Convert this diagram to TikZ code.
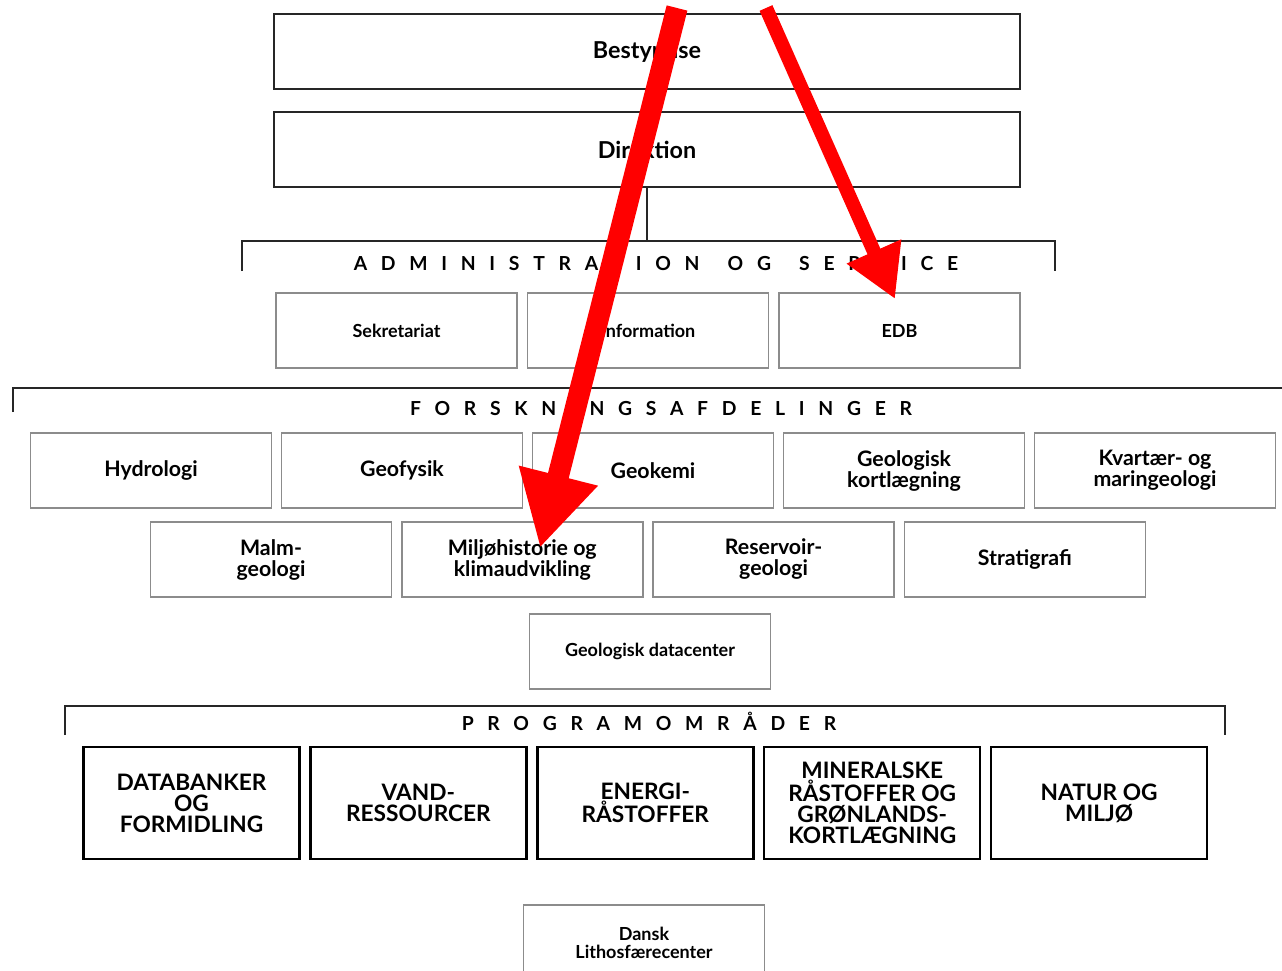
\documentclass[tikz,border=0pt]{standalone}
\usepackage{fontspec}
\setmainfont{Lato}[BoldFont={Lato Bold}]
\usetikzlibrary{arrows.meta}
\tikzset{arrow/.style={draw,red,line cap=butt,#1}}
\tikzset{topbox/.style={draw=black!85,line width=1.5pt,minimum width=559.5pt,minimum height=56.25pt,inner sep=0pt,font={\bfseries\fontsize{17.5pt}{17.5pt}\selectfont}}}
\tikzset{unitbox/.style={draw=black!45,line width=1.2pt,minimum width=180.75pt,minimum height=56.25pt,align=center,inner sep=0pt,font={\bfseries\fontsize{16pt}{15.75pt}\selectfont}}}
\tikzset{smallbox/.style={unitbox,font={\bfseries\fontsize{13.5pt}{13.5pt}\selectfont}}}
\tikzset{progbox/.style={draw=black,line width=1.8pt,minimum width=162pt,minimum height=84pt,align=center,inner sep=0pt,font={\bfseries\fontsize{17pt}{15.75pt}\selectfont}}}
\tikzset{bracket/.style={draw=black!85,line width=1.5pt}}
\tikzset{bracketlabel/.style={anchor=base,inner sep=0pt,font={\bfseries\fontsize{14.5pt}{14.5pt}\selectfont\addfontfeature{LetterSpace=71}}}}
\newcommand{\wgap}{\ \hspace{0.5em}}

\begin{document}
\begin{tikzpicture}[x=0.75pt,y=-0.75pt]
    \useasboundingbox (0,0) rectangle (1282,971);
    % ledelse
    \node[topbox] (best) at (647,51.5) {Bestyrelse};
    \node[topbox] (dir) at (647,149.5) {Direktion};
    % administration og service
    \coordinate (admL) at (242,271);
    \coordinate (admR) at (1055,271);
    \coordinate (admT) at (647,241);
    \draw[bracket] (admL) -- ++(0,-30) -| (admR);
    \draw[bracket] (dir.south) -- (admT);
    \node[bracketlabel] (admlbl) at (656,270) {ADMINISTRATION\wgap OG\wgap SERVICE};
    \foreach \i/\j in {0/Sekretariat, 1/Information, 2/EDB}{
        \node[smallbox] (adm\i) at (396.5+251.5*\i, 330.5) {\j};
    }
    % forskningsafdelinger
    \coordinate (forL) at (13,412);
    \coordinate (forR) at (1300,412);
    \draw[bracket] (forL) -- ++(0,-24) -| (forR);
    \node[bracketlabel] (forlbl) at (661,415) {FORSKNINGSAFDELINGER};
    \foreach \i/\j in {0/Hydrologi, 1/Geofysik, 2/Geokemi, 3/Geologisk\\kortlægning, 4/Kvartær- og\\maringeologi}{
        \node[unitbox] (fa\i) at (151+251*\i, 470.5) {\j};
    }
    \foreach \i/\j in {0/Malm-\\geologi, 1/Miljøhistorie og\\klimaudvikling, 2/Reservoir-\\geologi, 3/Stratigrafi}{
        \node[unitbox] (fb\i) at (271+251.3*\i, 559.5) {\j};
    }
    \node[smallbox] (gdc) at (650,651.5) {Geologisk datacenter};
    % programomraader
    \coordinate (proL) at (65,735);
    \coordinate (proR) at (1225,735);
    \draw[bracket] (proL) -- ++(0,-29) -| (proR);
    \node[bracketlabel] (prolbl) at (649,730) {PROGRAMOMRÅDER};
    \foreach \i/\j in {0/DATABANKER\\OG\\FORMIDLING, 1/VAND-\\RESSOURCER, 2/ENERGI-\\RÅSTOFFER, 3/MINERALSKE\\RÅSTOFFER OG\\GRØNLANDS-\\KORTLÆGNING, 4/NATUR OG\\MILJØ}{
        \node[progbox] (pr\i) at (191.5+226.9*\i, 803) {\j};
    }
    \node[smallbox] (dlc) at (644,942.5) {Dansk\\Lithosfærecenter};
    % pile
    \coordinate (a1s) at (677,8);
    \coordinate (a1e) at (540,548);
    \coordinate (a2s) at (766,8);
    \coordinate (a2e) at (895,299);
    \draw[arrow={line width=16pt,-{Triangle[length=56pt,width=57pt]}}] (a1s) -- (a1e);
    \draw[arrow={line width=10.5pt,-{Triangle[length=39pt,width=42pt]}}] (a2s) -- (a2e);
\end{tikzpicture}
\end{document}
